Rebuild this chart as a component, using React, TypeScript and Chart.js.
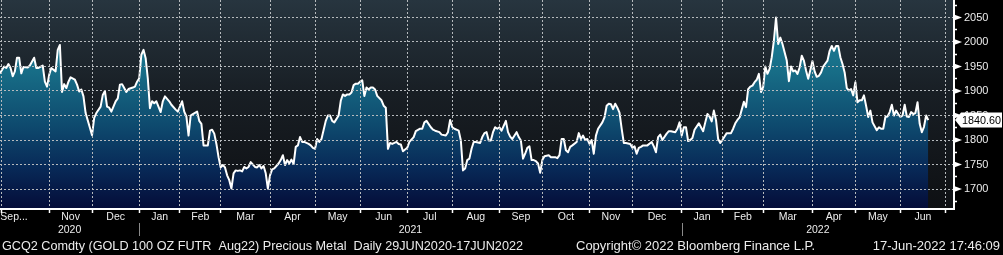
import { useEffect, useRef } from "react";
import { Chart, registerables } from "chart.js";

Chart.register(...registerables);

// Daily settlement of GCQ2 (trading-session number counted from 1-Oct-2020, price in USD/oz)
const goldCloses: [number, number][] = [
  [-1, 1936], [1, 1950], [2, 1947], [3, 1955], [4, 1947], [5, 1930], [6, 1940], [7, 1968], [8, 1968], [9, 1936],
  [10, 1949], [12, 1948], [13, 1952], [15, 1968], [16, 1947], [17, 1947], [19, 1952], [20, 1919], [21, 1909], [22, 1933],
  [23, 1947], [25, 1940], [26, 1984], [27, 1994], [28, 1898], [29, 1914], [30, 1906], [31, 1919], [32, 1928], [34, 1923],
  [35, 1913], [36, 1899], [37, 1903], [38, 1889], [39, 1855], [40, 1840], [41, 1825], [42, 1810], [43, 1845], [44, 1855],
  [46, 1868], [47, 1892], [48, 1900], [49, 1868], [50, 1866], [51, 1858], [53, 1879], [54, 1885], [55, 1913], [56, 1914],
  [57, 1906], [58, 1898], [59, 1904], [61, 1907], [62, 1909], [63, 1919], [64, 1926], [65, 1974], [66, 1984], [67, 1967],
  [68, 1926], [69, 1865], [70, 1879], [71, 1875], [72, 1879], [74, 1857], [75, 1879], [76, 1889], [78, 1879], [79, 1872],
  [81, 1862], [82, 1858], [84, 1879], [85, 1858], [86, 1848], [87, 1809], [88, 1850], [89, 1853], [91, 1858], [92, 1839],
  [93, 1833], [94, 1789], [96, 1789], [97, 1819], [98, 1821], [99, 1813], [100, 1792], [101, 1765], [102, 1744], [103, 1749],
  [104, 1744], [105, 1728], [106, 1718], [107, 1701], [108, 1732], [109, 1738], [110, 1737], [111, 1738], [112, 1736], [113, 1745],
  [114, 1742], [115, 1745], [116, 1755], [118, 1745], [119, 1744], [120, 1749], [121, 1742], [122, 1747], [123, 1732], [124, 1701],
  [125, 1728], [126, 1740], [127, 1742], [129, 1752], [130, 1759], [131, 1769], [132, 1749], [133, 1759], [134, 1752], [135, 1760],
  [136, 1751], [137, 1786], [138, 1789], [139, 1806], [140, 1796], [141, 1796], [143, 1792], [144, 1789], [145, 1784], [146, 1782],
  [147, 1802], [148, 1796], [149, 1802], [151, 1839], [152, 1850], [153, 1850], [154, 1839], [155, 1836], [157, 1850], [158, 1880],
  [159, 1893], [160, 1890], [161, 1893], [162, 1893], [163, 1897], [164, 1912], [165, 1915], [166, 1915], [167, 1919], [168, 1922],
  [169, 1890], [170, 1907], [171, 1903], [172, 1907], [173, 1907], [174, 1903], [175, 1890], [177, 1881], [178, 1870], [179, 1866],
  [180, 1782], [181, 1794], [182, 1792], [184, 1796], [185, 1792], [186, 1791], [187, 1777], [189, 1784], [190, 1796], [192, 1806],
  [193, 1818], [195, 1823], [196, 1823], [197, 1836], [198, 1839], [200, 1826], [201, 1821], [202, 1819], [204, 1816], [205, 1811],
  [207, 1809], [208, 1816], [209, 1841], [210, 1826], [211, 1823], [213, 1819], [214, 1799], [215, 1738], [216, 1742], [217, 1759],
  [218, 1762], [219, 1782], [220, 1796], [221, 1796], [223, 1794], [224, 1806], [225, 1814], [226, 1816], [227, 1799], [228, 1799],
  [229, 1816], [230, 1826], [231, 1823], [232, 1826], [233, 1819], [235, 1839], [236, 1816], [237, 1807], [238, 1802], [240, 1816],
  [241, 1806], [242, 1799], [243, 1762], [244, 1772], [245, 1784], [246, 1787], [247, 1759], [248, 1759], [249, 1757], [250, 1752],
  [251, 1733], [252, 1759], [253, 1767], [255, 1769], [256, 1765], [258, 1765], [259, 1763], [260, 1769], [261, 1802], [262, 1802],
  [263, 1779], [264, 1775], [265, 1786], [266, 1789], [268, 1796], [269, 1814], [270, 1802], [271, 1809], [272, 1800], [273, 1802],
  [274, 1792], [275, 1800], [276, 1772], [277, 1809], [278, 1823], [280, 1836], [281, 1846], [282, 1870], [283, 1874], [284, 1873],
  [285, 1863], [286, 1874], [287, 1866], [288, 1856], [289, 1823], [290, 1794], [291, 1794], [293, 1792], [294, 1784], [295, 1787],
  [296, 1772], [297, 1784], [298, 1786], [299, 1789], [300, 1789], [301, 1789], [303, 1796], [304, 1787], [305, 1775], [306, 1806],
  [307, 1811], [308, 1800], [310, 1813], [311, 1818], [312, 1818], [314, 1816], [315, 1823], [316, 1836], [317, 1809], [318, 1826],
  [319, 1826], [320, 1798], [321, 1800], [322, 1804], [323, 1821], [325, 1834], [326, 1826], [327, 1818], [328, 1836], [329, 1853],
  [330, 1848], [331, 1838], [332, 1860], [333, 1841], [334, 1802], [335, 1794], [336, 1800], [337, 1807], [338, 1814], [340, 1814],
  [341, 1823], [342, 1834], [343, 1841], [344, 1846], [345, 1862], [346, 1878], [347, 1867], [348, 1904], [349, 1909], [350, 1911],
  [351, 1918], [352, 1923], [353, 1935], [354, 1898], [355, 1908], [356, 1950], [357, 1935], [358, 1945], [359, 1969], [360, 2003],
  [361, 2050], [362, 1996], [363, 2009], [364, 1996], [365, 1979], [366, 1962], [367, 1920], [368, 1950], [369, 1940], [370, 1942],
  [371, 1935], [372, 1948], [373, 1972], [374, 1962], [375, 1942], [376, 1925], [377, 1943], [378, 1961], [379, 1940], [380, 1929],
  [381, 1931], [382, 1938], [383, 1950], [385, 1962], [386, 1982], [387, 1992], [388, 1982], [389, 1992], [390, 1992], [391, 1969],
  [392, 1955], [393, 1938], [394, 1906], [395, 1901], [396, 1904], [397, 1891], [398, 1918], [399, 1877], [400, 1881], [401, 1881],
  [402, 1891], [403, 1870], [404, 1847], [405, 1860], [406, 1836], [408, 1820], [409, 1826], [410, 1823], [411, 1823], [412, 1847],
  [413, 1848], [414, 1857], [415, 1872], [416, 1850], [417, 1860], [418, 1853], [419, 1847], [420, 1850], [421, 1872], [422, 1848],
  [423, 1847], [424, 1857], [425, 1853], [426, 1855], [427, 1877], [428, 1833], [429, 1816], [430, 1827], [431, 1850], [432, 1840.6],
];

// first session of each month, Oct-2020 .. Jul-2022
const monthStarts = [0, 22, 42, 64, 83, 102, 125, 146, 167, 189, 210, 232, 252, 274, 294, 317, 336, 355, 378, 398, 419, 440];
const monthLabels = ["Sep...", "Nov", "Dec", "Jan", "Feb", "Mar", "Apr", "May", "Jun", "Jul", "Aug", "Sep", "Oct", "Nov", "Dec", "Jan", "Feb", "Mar", "Apr", "May", "Jun"];
const yearStarts = [64, 317];
const yearLabels = ["2020", "2021", "2022"];
const priceTicks = [1700, 1750, 1800, 1850, 1900, 1950, 2000, 2050];
const lastPrice = 1840.6;
const footerLeft = "GCQ2 Comdty (GOLD 100 OZ FUTR  Aug22) Precious Metal  Daily 29JUN2020-17JUN2022";
const footerMid = "Copyright\u00A9 2022 Bloomberg Finance L.P.";
const footerRight = "17-Jun-2022 17:46:09";

const X_MIN = -0.93;
const X_MAX = 444;
const Y_MIN = 1659.2;
const Y_MAX = 2085.7;
const FIRST_LABEL_AT = 5.6;

const FONT = "'Liberation Sans', Arial, sans-serif";
const GRID = "#b6babd";
const NONE = "rgba(0,0,0,0)";
const TEXT = "#ececec";

const monthLabelPos = monthLabels.map((_, i) =>
  i === 0 ? FIRST_LABEL_AT : (monthStarts[i] + monthStarts[i + 1]) / 2
);
const yearBounds = [X_MIN, ...yearStarts, X_MAX];
const yearLabelPos = yearLabels.map((_, i) => (yearBounds[i] + yearBounds[i + 1]) / 2);

const minorTicks: number[] = [];
for (let v = 1675; v <= 2075; v += 25) minorTicks.push(v);

const noPad = (s: any) => {
  s.paddingLeft = 0;
  s.paddingRight = 0;
  s.paddingTop = 0;
  s.paddingBottom = 0;
};

const backgroundPlugin = {
  id: "bbgBackground",
  beforeDraw(chart: any) {
    const { ctx, chartArea: a, width, height } = chart;
    ctx.save();
    ctx.fillStyle = "#000";
    ctx.fillRect(0, 0, width, height);
    const g = ctx.createLinearGradient(0, a.top, 0, a.bottom);
    g.addColorStop(0, "#27353f");
    g.addColorStop(0.45, "#181e24");
    g.addColorStop(1, "#0e1013");
    ctx.fillStyle = g;
    ctx.fillRect(a.left, a.top, a.right - a.left, a.bottom - a.top);
    ctx.restore();
  },
};

const decorPlugin = {
  id: "bbgDecor",
  afterDraw(chart: any) {
    const { ctx, width } = chart;
    const ys = chart.scales.y;
    const xs = chart.scales.x;
    const yr = chart.scales.xYear;
    ctx.save();
    // major tick markers
    ctx.fillStyle = "#ffffff";
    priceTicks.forEach((v) => {
      const py = ys.getPixelForValue(v);
      ctx.beginPath();
      ctx.moveTo(ys.left, py - 3);
      ctx.lineTo(ys.left + 8, py);
      ctx.lineTo(ys.left, py + 3);
      ctx.closePath();
      ctx.fill();
    });
    // last price tag
    const py = ys.getPixelForValue(lastPrice);
    ctx.beginPath();
    ctx.moveTo(ys.left + 1, py);
    ctx.lineTo(ys.left + 7, py - 7.5);
    ctx.lineTo(width - 1, py - 7.5);
    ctx.lineTo(width - 1, py + 7.5);
    ctx.lineTo(ys.left + 7, py + 7.5);
    ctx.closePath();
    ctx.fill();
    ctx.fillStyle = "#000";
    ctx.font = `11.5px ${FONT}`;
    ctx.textBaseline = "middle";
    ctx.textAlign = "left";
    ctx.fillText(lastPrice.toFixed(2), ys.left + 8, py + 0.5, width - ys.left - 10);
    // year separators
    ctx.strokeStyle = "#8a8a8a";
    ctx.lineWidth = 1;
    yearStarts.forEach((s) => {
      const px = Math.round(xs.getPixelForValue(s)) + 0.5;
      ctx.beginPath();
      ctx.moveTo(px, yr.top);
      ctx.lineTo(px, yr.bottom);
      ctx.stroke();
    });
    // footer
    const fy = (yr.bottom + chart.height) / 2 + 0.5;
    ctx.fillStyle = TEXT;
    ctx.font = `13px ${FONT}`;
    ctx.textAlign = "left";
    ctx.fillText(footerLeft, 2, fy, 521);
    ctx.fillText(footerMid, 576, fy, 240);
    ctx.textAlign = "right";
    ctx.fillText(footerRight, width - 3, fy, 130);
    ctx.restore();
  },
};

export default function App() {
  const canvasRef = useRef<HTMLCanvasElement | null>(null);

  useEffect(() => {
    document.body.style.margin = "0";
    document.body.style.background = "#000";
    const canvas = canvasRef.current;
    if (!canvas) return;

    const chart = new Chart(canvas, {
      type: "line",
      data: {
        datasets: [
          {
            data: goldCloses.map(([s, p]) => ({ x: s, y: p })),
            borderColor: "#ffffff",
            borderWidth: 2,
            borderJoinStyle: "round",
            pointRadius: 0,
            tension: 0,
            fill: "start",
            backgroundColor: (c: any) => {
              const { ctx, chartArea } = c.chart;
              if (!chartArea) return NONE;
              const g = ctx.createLinearGradient(0, chartArea.top, 0, chartArea.bottom);
              g.addColorStop(0, "#1f8aa0");
              g.addColorStop(0.35, "#176c86");
              g.addColorStop(0.6, "#0e4a6e");
              g.addColorStop(0.8, "#082a58");
              g.addColorStop(1, "#040c38");
              return g;
            },
          },
        ],
      },
      options: {
        animation: false,
        responsive: false,
        devicePixelRatio: 1,
        layout: { padding: { left: 0, right: 0, top: 0, bottom: 19 } },
        plugins: { legend: { display: false }, tooltip: { enabled: false } },
        scales: {
          x: {
            type: "linear",
            position: "bottom",
            weight: 0,
            min: X_MIN,
            max: X_MAX,
            afterBuildTicks: (s: any) => {
              s.ticks = monthStarts.map((v) => ({ value: v }));
            },
            ticks: { display: false, autoSkip: false },
            grid: {
              color: GRID,
              lineWidth: 1,
              drawTicks: true,
              tickLength: 4,
              tickColor: "#ffffff",
              tickWidth: 1.5,
              z: 1,
            },
            border: { display: true, color: "#ffffff", width: 2, dash: [2, 2], z: 2 },
            afterFit: (s: any) => {
              s.height = 2;
              noPad(s);
            },
          },
          xMonth: {
            type: "linear",
            position: "bottom",
            weight: 1,
            min: X_MIN,
            max: X_MAX,
            afterBuildTicks: (s: any) => {
              s.ticks = monthLabelPos.map((v) => ({ value: v }));
            },
            ticks: {
              autoSkip: false,
              maxRotation: 0,
              minRotation: 0,
              padding: 0,
              color: TEXT,
              font: { family: FONT, size: 10.5 },
              callback: (_v: any, i: number) => monthLabels[i],
            },
            grid: { display: false, drawTicks: false },
            border: { display: false },
            afterFit: (s: any) => {
              s.height = 12;
              noPad(s);
            },
          },
          xYear: {
            type: "linear",
            position: "bottom",
            weight: 2,
            min: X_MIN,
            max: X_MAX,
            afterBuildTicks: (s: any) => {
              s.ticks = yearLabelPos.map((v) => ({ value: v }));
            },
            ticks: {
              autoSkip: false,
              maxRotation: 0,
              minRotation: 0,
              padding: 0.5,
              color: TEXT,
              font: { family: FONT, size: 10.5 },
              callback: (_v: any, i: number) => yearLabels[i],
            },
            grid: { display: false, drawTicks: false },
            border: { display: false },
            afterFit: (s: any) => {
              s.height = 13;
              noPad(s);
            },
          },
          y: {
            type: "linear",
            position: "right",
            min: Y_MIN,
            max: Y_MAX,
            afterBuildTicks: (s: any) => {
              s.ticks = minorTicks.map((v) => ({ value: v }));
            },
            ticks: {
              autoSkip: false,
              padding: 7,
              color: TEXT,
              font: { family: FONT, size: 11 },
              callback: (v: any) => (priceTicks.includes(Number(v)) ? String(v) : ""),
            },
            grid: {
              color: (c: any) =>
                c.tick && priceTicks.includes(Math.round(c.tick.value)) ? GRID : NONE,
              lineWidth: 1,
              drawTicks: true,
              tickLength: 3,
              tickColor: "#ffffff",
              tickWidth: 1.5,
              z: 1,
            },
            border: { display: true, color: "#ffffff", width: 2, dash: [2, 2], z: 2 },
            afterFit: (s: any) => {
              s.width = 49;
              noPad(s);
            },
          },
        },
      },
      plugins: [backgroundPlugin, decorPlugin],
    } as any);

    return () => chart.destroy();
  }, []);

  return (
    <div style={{ width: 1003, height: 255, background: "#000" }}>
      <canvas ref={canvasRef} width={1003} height={255} style={{ display: "block" }} />
    </div>
  );
}
